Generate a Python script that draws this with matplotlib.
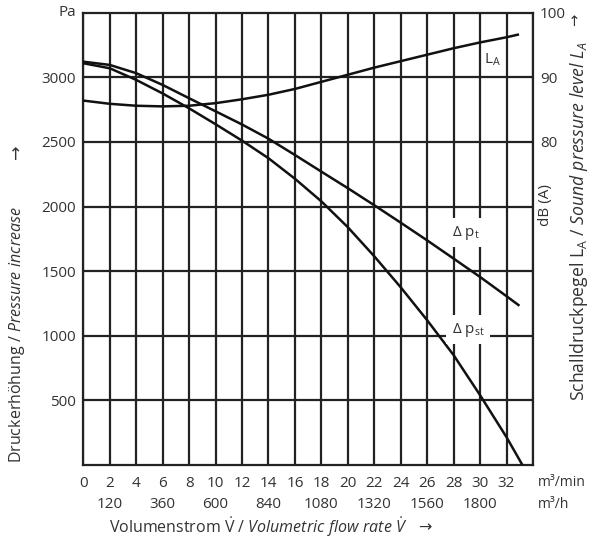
import numpy as np
import matplotlib
matplotlib.use("Agg")
import matplotlib.pyplot as plt

plt.rcParams['font.family'] = ['Open Sans', 'DejaVu Sans']
plt.rcParams['mathtext.fontset'] = 'custom'
plt.rcParams['mathtext.rm'] = 'Open Sans'
plt.rcParams['mathtext.it'] = 'Open Sans:italic'
plt.rcParams['mathtext.bf'] = 'Open Sans:bold'
plt.rcParams['mathtext.fallback'] = 'stixsans'

TXT = '#333333'
GRID = '#222222'

# ---- data ----
flow_min = [0, 2, 4, 6, 8, 10, 12, 14, 16, 18, 20, 22, 24, 26, 28, 30, 32, 32.9]
dp_t = [3121, 3096, 3032, 2941, 2838, 2737, 2635, 2525, 2399, 2270, 2142, 2010,
        1875, 1738, 1597, 1455, 1306, 1238]

flow_st = [0, 2, 4, 6, 8, 10, 12, 14, 16, 18, 20, 22, 24, 26, 28, 30, 32, 33.2]
dp_st = [3109, 3070, 2980, 2875, 2760, 2637, 2510, 2374, 2215, 2040, 1840, 1615,
         1375, 1120, 850, 540, 215, 0]

flow_la = [0, 2, 4, 6, 8, 10, 12, 14, 16, 18, 20, 22, 24, 26, 28, 30, 32, 32.85]
la_db = [86.4, 85.9, 85.6, 85.5, 85.6, 86.0, 86.6, 87.3, 88.2, 89.3, 90.4, 91.5,
         92.5, 93.5, 94.5, 95.4, 96.2, 96.6]

x_ticks = [0, 2, 4, 6, 8, 10, 12, 14, 16, 18, 20, 22, 24, 26, 28, 30, 32]
x_ticks_h = [2, 6, 10, 14, 18, 22, 26, 30]
x_labels_h = ['120', '360', '600', '840', '1080', '1320', '1560', '1800']
y_ticks = [500, 1000, 1500, 2000, 2500, 3000]
db_ticks = [80, 90, 100]

FS = 11
fig = plt.figure(figsize=(6, 5.42), dpi=100)
W, H = 600, 542
L, R, T, B = 83.3, 533.0, 12.7, 465.0
ax = fig.add_axes([L / W, 1 - B / H, (R - L) / W, (B - T) / H])
ax.set_xlim(0, 34)
ax.set_ylim(0, 3500)
ax.set_xticks(np.arange(0, 35, 2))
ax.set_xticklabels([str(v) if v in x_ticks else '' for v in range(0, 35, 2)],
                   fontsize=FS, color=TXT)
ax.set_yticks(y_ticks)
ax.set_yticklabels([str(v) for v in y_ticks], fontsize=FS, color=TXT)
ax.tick_params(axis='both', length=0)
ax.tick_params(axis='x', pad=8)
ax.tick_params(axis='y', pad=5)
ax.grid(True, color=GRID, lw=1.6, zorder=1)
ax.set_axisbelow(True)
for s in ax.spines.values():
    s.set_linewidth(1.6)
    s.set_color(GRID)

ax.plot(flow_min, dp_t, color='#111111', lw=1.8, zorder=3)
ax.plot(flow_st, dp_st, color='#111111', lw=1.8, zorder=3)

ax2 = ax.twinx()
ax2.set_ylim(30, 100)
ax2.set_yticks(db_ticks)
ax2.set_yticklabels([str(v) for v in db_ticks], fontsize=FS, color=TXT)
ax2.tick_params(axis='y', length=0, pad=5)
for s in ax2.spines.values():
    s.set_visible(False)
ax2.plot(flow_la, la_db, color='#111111', lw=1.8, zorder=3)

# second row of x labels (m3/h)
trans = ax.get_xaxis_transform()
for xv, lab in zip(x_ticks_h, x_labels_h):
    ax.text(xv, -0.0884, lab, transform=trans, ha='center', va='center',
            fontsize=FS, color=TXT)
fig.text(538 / W, 1 - 483 / H, 'm³/min', ha='left', va='center', fontsize=10, color=TXT)
fig.text(538 / W, 1 - 505 / H, 'm³/h', ha='left', va='center', fontsize=10, color=TXT)
fig.text(67 / W, 1 - 12 / H, 'Pa', ha='center', va='center', fontsize=FS, color=TXT)
fig.text(546 / W, 1 - 205 / H, 'dB (A)', ha='center', va='center', rotation=90,
         fontsize=FS, color=TXT)

# axis titles
TF = 11.5
fig.text(258 / W, 1 - 527 / H,
         r'Volumenstrom $\dot{\mathrm{V}}$ / $\mathit{Volumetric\ flow\ rate}\ \dot{V}$',
         ha='center', va='center', fontsize=TF, color=TXT)
fig.text(425 / W, 1 - 528 / H, '→', family='DejaVu Sans',
         ha='center', va='center', fontsize=TF, color=TXT)

fig.text(17 / W, 1 - 335 / H,
         r'Druckerhöhung / $\mathit{Pressure\ increase}$',
         ha='center', va='center', rotation=90, fontsize=TF, color=TXT)
fig.text(17 / W, 1 - 152 / H, '→', family='DejaVu Sans', rotation=90,
         ha='center', va='center', fontsize=TF + 1, color=TXT)

fig.text(579 / W, 1 - 221 / H,
         r'Schalldruckpegel L$_\mathrm{A}$ / $\mathit{Sound\ pressure\ level\ L_A}$',
         ha='center', va='center', rotation=90, fontsize=12.7, color=TXT)
fig.text(575 / W, 1 - 20 / H, '→', family='DejaVu Sans', rotation=90,
         ha='center', va='center', fontsize=TF - 1, color=TXT)

# curve labels
ax.text(28.9, 1796, r'Δ p$_\mathrm{t}$', ha='center', va='center', fontsize=FS,
        color=TXT, zorder=5,
        bbox=dict(facecolor='white', edgecolor='none', pad=4))
ax.text(29.1, 1045, r'Δ p$_\mathrm{st}$', ha='center', va='center', fontsize=FS,
        color=TXT, zorder=5,
        bbox=dict(facecolor='white', edgecolor='none', pad=4))
ax.text(30.9, 3135, r'L$_\mathrm{A}$', ha='center', va='center', fontsize=FS,
        color=TXT, zorder=5)

fig.savefig('out.png', dpi=100)
